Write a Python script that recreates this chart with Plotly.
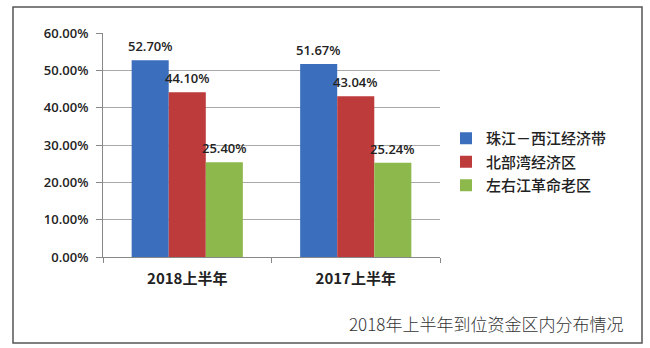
import plotly.graph_objects as go

# Half-year periods and regional share of paid-in capital (%)
periods = ["2018上半年", "2017上半年"]
series_names = ["珠江－西江经济带", "北部湾经济区", "左右江革命老区"]
share_zhujiang = [52.70, 51.67]
share_beibuwan = [44.10, 43.04]
share_zuoyoujiang = [25.40, 25.24]
y_ticks = [0, 10, 20, 30, 40, 50, 60]
caption = "2018年上半年到位资金区内分布情况"

series_values = [share_zhujiang, share_beibuwan, share_zuoyoujiang]
colors = ["#3B6FBE", "#BE3B3C", "#8DB84C"]

W, H = 650, 348
L, R, T, B = 103, 210, 33, 91
plot_w = W - L - R
plot_h = H - T - B

fig = go.Figure()
for name, vals, col in zip(series_names, series_values, colors):
    fig.add_trace(go.Bar(
        name=name, x=periods, y=vals, marker=dict(color=col, line=dict(width=0)),
        offsetgroup=name, legendgroup=name,
    ))

# value labels above each bar
n = len(series_names)
gap = 0.34
bar_w = (1 - gap) / n
annotations = []
for i, vals in enumerate(series_values):
    for j, v in enumerate(vals):
        xpos = j - (1 - gap) / 2 + bar_w * (i + 0.5)
        annotations.append(dict(
            x=xpos, y=v, xref="x", yref="y", text=f"{v:.2f}%",
            showarrow=False, yshift=14,
            font=dict(family="Open Sans", size=13, color="#222222", weight=600),
        ))

annotations.append(dict(
    x=(486 - L) / plot_w, y=(T + plot_h - 323) / plot_h, xref="paper", yref="paper",
    text=caption, showarrow=False, xanchor="center", yanchor="middle",
    font=dict(family="Noto Sans CJK SC", size=17, color="#333333", weight=300),
))

fig.update_layout(
    width=W, height=H,
    margin=dict(l=L, r=R, t=T, b=B),
    paper_bgcolor="white", plot_bgcolor="white",
    barmode="group", bargap=gap, bargroupgap=0,
    showlegend=True,
    legend=dict(
        x=(446 - L) / plot_w, y=(T + plot_h - 122) / plot_h,
        xanchor="left", yanchor="top",
        font=dict(family="Noto Sans CJK SC", size=15, color="#222222", weight=500),
        itemwidth=30, tracegroupgap=1, bgcolor="rgba(0,0,0,0)",
    ),
    xaxis=dict(
        type="category", showgrid=False, showline=True, linecolor="#888888", linewidth=1,
        ticks="outside", tickson="boundaries", ticklen=5, tickcolor="#888888",
        tickfont=dict(family="Noto Sans CJK SC", size=15, color="#222222", weight=700),
        ticklabelstandoff=8,
        range=[-0.5, 1.5],
    ),
    yaxis=dict(
        range=[0, 60], tickvals=y_ticks, ticktext=[f"{t:.2f}%" for t in y_ticks],
        showgrid=True, gridcolor="#A8A8A8", gridwidth=1,
        showline=True, linecolor="#888888", linewidth=1,
        ticks="outside", ticklen=6, tickcolor="#888888",
        tickfont=dict(family="Open Sans", size=13, color="#222222", weight=600),
        ticklabelstandoff=5,
        zeroline=False,
    ),
    annotations=annotations,
    shapes=[dict(
        type="rect", xref="paper", yref="paper",
        x0=(13 - L) / plot_w, x1=(642 - L) / plot_w,
        y0=(T + plot_h - 343) / plot_h, y1=(T + plot_h - 7) / plot_h,
        line=dict(color="#555555", width=1.5), layer="below",
    )],
)

fig.write_html("out.html")
